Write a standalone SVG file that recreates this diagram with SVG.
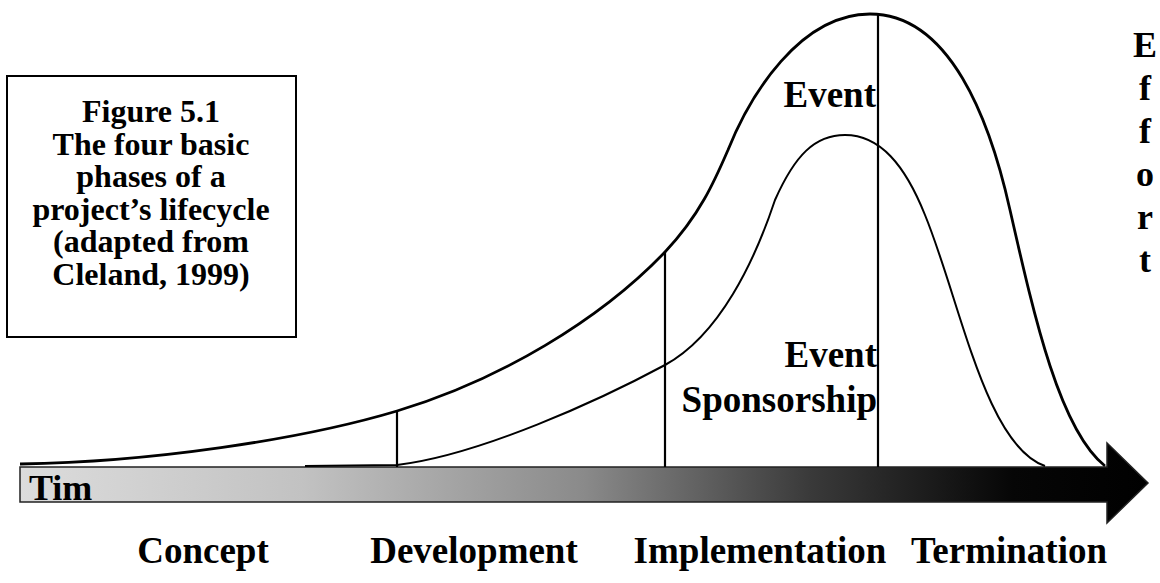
<svg xmlns="http://www.w3.org/2000/svg" width="1160" height="583" viewBox="0 0 1160 583">
<defs>
<style>
.t{font-family:"Liberation Serif","Times New Roman",serif;font-weight:bold;fill:#000}
.box{font-size:32px;text-anchor:middle}
.ph{font-size:37px;text-anchor:middle}
.ef{font-size:36px;text-anchor:middle}
.lbl{font-size:37px}
.c{fill:none;stroke:#000;stroke-width:2.8}
.ci{fill:none;stroke:#000;stroke-width:2}
.v{stroke:#000;stroke-width:2.2}
</style>
<linearGradient id="g" gradientUnits="userSpaceOnUse" x1="20" y1="0" x2="1148" y2="0">
<stop offset="0" stop-color="#dcdcdc"/>
<stop offset="0.25" stop-color="#c2c2c2"/>
<stop offset="0.5" stop-color="#8a8a8a"/>
<stop offset="0.7" stop-color="#3a3a3a"/>
<stop offset="0.88" stop-color="#060606"/>
<stop offset="1" stop-color="#000"/>
</linearGradient>
</defs>
<rect width="1160" height="583" fill="#fff"/>
<g id="caption">
<rect x="7" y="76" width="289" height="261" fill="#fff" stroke="#000" stroke-width="2"/>
<text class="t box" x="151" y="122"><tspan x="151">Figure 5.1</tspan><tspan x="151" dy="32.5">The four basic</tspan><tspan x="151" dy="32.5">phases of a</tspan><tspan x="151" dy="32.5">project’s lifecycle</tspan><tspan x="151" dy="32.5">(adapted from</tspan><tspan x="151" dy="32.5">Cleland, 1999)</tspan></text>
</g>
<g id="time-axis">
<path d="M20,467 H1107 V443 L1148,483 L1107,523 V502 H20 Z" fill="url(#g)" stroke="#222" stroke-width="1.5"/>
<text class="t" style="font-size:36px" x="29" y="500">Tim</text>
</g>
<g id="connectors">
<path class="c" d="M20,464 C150,462 300,440 397,411 C500,380 600,320 665,252 C700,215 715,180 728,150 C750,95 800,14 870,14 C950,14 990,120 1010,210 C1035,320 1060,430 1105,466"/>
<path class="ci" d="M305,466 L397,465 C480,455 600,400 665,365 C720,335 755,260 775,200 C795,155 815,135 845,135 C880,135 905,165 925,215 C960,300 985,445 1045,466"/>
<line class="v" x1="397" y1="411" x2="397" y2="467"/>
<line class="v" x1="665" y1="251" x2="665" y2="467"/>
<line class="v" x1="878" y1="14" x2="878" y2="467"/>
</g>
<g id="event-label">
<text class="t lbl" x="876" y="107" text-anchor="end">Event</text>
</g>
<g id="sponsorship-label">
<text class="t lbl" x="877" y="367" text-anchor="end">Event</text>
<text class="t lbl" x="877" y="412" text-anchor="end">Sponsorship</text>
</g>
<g id="effort-label">
<text class="t ef" x="1145" y="57">E</text>
<text class="t ef" x="1145" y="100">f</text>
<text class="t ef" x="1145" y="143">f</text>
<text class="t ef" x="1145" y="186">o</text>
<text class="t ef" x="1145" y="229">r</text>
<text class="t ef" x="1145" y="272">t</text>
</g>
<g id="phases">
<text class="t ph" x="203" y="563">Concept</text>
<text class="t ph" x="474" y="563">Development</text>
<text class="t ph" x="760" y="563">Implementation</text>
<text class="t ph" x="1009" y="563">Termination</text>
</g>
</svg>
